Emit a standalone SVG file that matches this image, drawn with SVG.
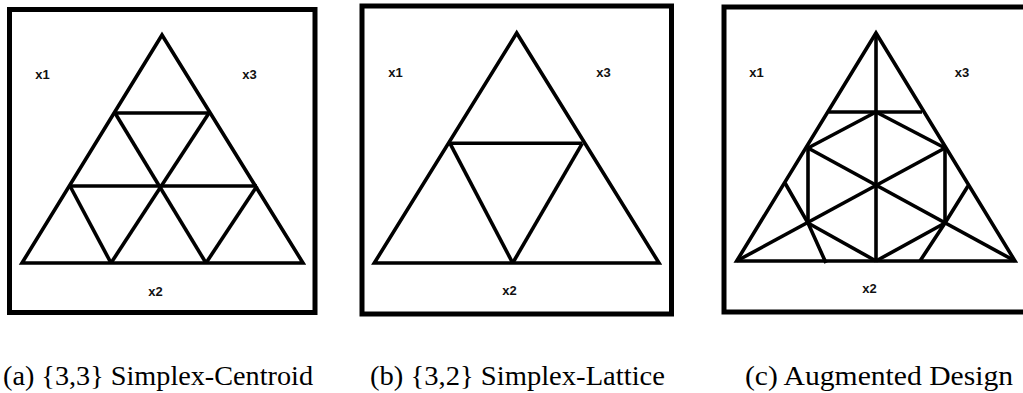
<svg xmlns="http://www.w3.org/2000/svg" width="1023" height="393" viewBox="0 0 1023 393">
<style>
.box{fill:none;stroke:#000;stroke-width:5}
.ln{fill:none;stroke:#000;stroke-width:3.6;stroke-linejoin:miter;stroke-linecap:butt}
.lbl{font-family:"Liberation Sans",Arial,sans-serif;font-weight:bold;font-size:13px;fill:#111;text-anchor:middle}
.cap{font-family:"Liberation Serif","Times New Roman",serif;font-size:27px;fill:#000}
</style>
<rect width="1023" height="393" fill="#fff"/>
<g id="panel-a">
<rect class="box" x="9.5" y="9.5" width="305.5" height="303"/>
<polygon class="ln" points="162,35 22,263 303,263"/>
<line class="ln" x1="115" y1="113" x2="209" y2="113"/>
<line class="ln" x1="70" y1="186" x2="257" y2="186"/>
<line class="ln" x1="115" y1="113" x2="206" y2="263"/>
<line class="ln" x1="209" y1="113" x2="111" y2="263"/>
<line class="ln" x1="70" y1="186" x2="111" y2="263"/>
<line class="ln" x1="257" y1="186" x2="206" y2="263"/>
<text class="lbl" x="42.5" y="79">x1</text>
<text class="lbl" x="249.5" y="79">x3</text>
<text class="lbl" x="155.5" y="296">x2</text>
</g>
<g id="panel-b">
<rect class="box" x="362" y="6" width="309.5" height="308"/>
<polygon class="ln" points="516.7,33 374.3,263 659,263"/>
<line class="ln" x1="450" y1="143.3" x2="582.3" y2="143.3"/>
<line class="ln" x1="450" y1="143.3" x2="512.7" y2="263"/>
<line class="ln" x1="582.3" y1="143.3" x2="512.7" y2="263"/>
<text class="lbl" x="395.5" y="77">x1</text>
<text class="lbl" x="603.5" y="77">x3</text>
<text class="lbl" x="509.5" y="295">x2</text>
</g>
<g id="panel-c">
<rect class="box" x="724" y="7" width="310" height="305"/>
<polygon class="ln" points="876,33 736.7,261 1015,261"/>
<line class="ln" x1="876" y1="33" x2="876" y2="261"/>
<line class="ln" x1="829" y1="112" x2="922" y2="112"/>
<line class="ln" x1="876" y1="112" x2="808" y2="148"/>
<line class="ln" x1="876" y1="112" x2="945" y2="148"/>
<line class="ln" x1="808" y1="148" x2="808" y2="223"/>
<line class="ln" x1="945" y1="148" x2="945" y2="223"/>
<line class="ln" x1="808" y1="223" x2="876" y2="261"/>
<line class="ln" x1="945" y1="223" x2="876" y2="261"/>
<line class="ln" x1="736.7" y1="261" x2="945" y2="148"/>
<line class="ln" x1="1015" y1="261" x2="808" y2="148"/>
<polyline class="ln" points="785,183 808,223 826,263"/>
<polyline class="ln" points="968,186 945,223 920,261"/>
<text class="lbl" x="756.5" y="77">x1</text>
<text class="lbl" x="962" y="77">x3</text>
<text class="lbl" x="869.5" y="293">x2</text>
</g>
<g id="captions">
<text class="cap" x="3" y="385" textLength="310" lengthAdjust="spacingAndGlyphs">(a) {3,3} Simplex-Centroid</text>
<text class="cap" x="370" y="385" textLength="295" lengthAdjust="spacingAndGlyphs">(b) {3,2} Simplex-Lattice</text>
<text class="cap" x="745" y="385" textLength="268" lengthAdjust="spacingAndGlyphs">(c) Augmented Design</text>
</g>
</svg>
